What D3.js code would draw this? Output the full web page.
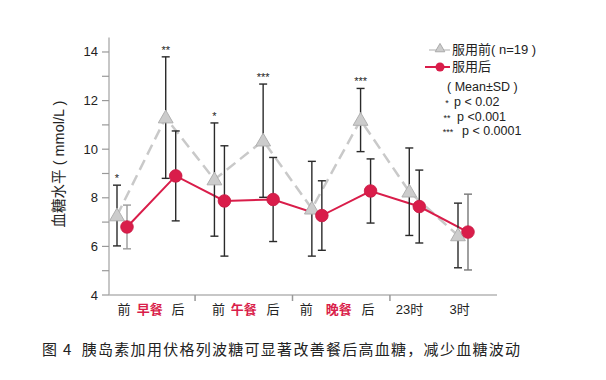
<!DOCTYPE html>
<html><head><meta charset="utf-8">
<script src="https://cdn.jsdelivr.net/npm/d3@7"></script>
<style>body{margin:0;background:#fff}svg{display:block}</style>
</head><body>
<svg id="c" width="606" height="380"></svg>
<script>
const timepoints = ["早餐前","早餐后","午餐前","午餐后","晚餐前","晚餐后","23时","3时"];
const beforeMean = [7.27, 11.3, 8.75, 10.35, 7.55, 11.2, 8.25, 6.45];
const beforeSD   = [1.25, 2.5, 2.33, 2.33, 1.95, 1.3, 1.8, 1.33];
const afterMean  = [6.8, 8.9, 7.87, 7.93, 7.27, 8.28, 7.64, 6.59];
const afterSD    = [0.9, 1.85, 2.27, 1.73, 1.43, 1.32, 1.5, 1.56];
const stars      = ["*", "**", "*", "***", "", "***", "", ""];
const yTicks = [4, 6, 8, 10, 12, 14];
const yMinor = [5, 7, 9, 11, 13];
const axisLabels = ["前","早餐","后","前","午餐","后","前","晚餐","后","23时","3时"];
const sigNotes = [["*","p < 0.02"],["**","p <0.001"],["***","p < 0.0001"]];

const svg = d3.select("#c");
const FONT = "'Liberation Sans', Arial, 'Noto Sans CJK SC', sans-serif";
const RED = "#d91d4a";
const y = d3.scaleLinear().domain([4, 14.6]).range([295, 37.4]);
const x = d3.scaleLinear().domain([0, 7]).range([122, 463]);
const axisGray = "#b5b5b5";

// y axis
svg.append("line").attr("x1",109).attr("x2",109).attr("y1",y(4)).attr("y2",y(14.6))
  .attr("stroke",axisGray).attr("stroke-width",1.5);
svg.selectAll(".yt").data(yTicks.concat(yMinor)).enter().append("line")
  .attr("x1",102).attr("x2",109).attr("y1",d=>y(d)).attr("y2",d=>y(d))
  .attr("stroke","#999").attr("stroke-width",1.2);
svg.selectAll(".yl").data(yTicks).enter().append("text")
  .attr("x",98).attr("y",d=>y(d)+4.5).attr("text-anchor","end")
  .attr("font-family",FONT).attr("font-size",13).attr("fill","#222").text(d=>d);

// x axis
svg.append("line").attr("x1",109).attr("x2",497).attr("y1",295).attr("y2",295)
  .attr("stroke",axisGray).attr("stroke-width",1.5);
[1.5, 3.5, 5.5].forEach(v=>{
  svg.append("line").attr("x1",x(v)).attr("x2",x(v)).attr("y1",295).attr("y2",301)
    .attr("stroke","#999").attr("stroke-width",1.5);
});
const labelPos = [0.04, 0.57, 1.15, 1.98, 2.5, 3.1, 3.78, 4.45, 5.05, 5.9, 6.93];
axisLabels.forEach((t,i)=>{
  const meal = t.indexOf("餐")>=0;
  svg.append("text").attr("x",x(labelPos[i])).attr("y",314).attr("text-anchor","middle")
    .attr("font-family",FONT).attr("font-size",13)
    .attr("font-weight",meal?"bold":"normal").attr("fill",meal?RED:"#222").text(t);
});

// y label
svg.append("text").attr("transform","translate(64,164) rotate(-90)").attr("text-anchor","middle")
  .attr("font-family",FONT).attr("font-size",14.5).attr("fill","#222").text("血糖水平 ( mmol/L )");

const tri = d3.symbol().type(d3.symbolTriangle).size(95);
const OFF = 5;

// before line (dashed gray)
const lineB = d3.line().x((d,i)=>x(i)-OFF).y(d=>y(d));
svg.append("path").datum(beforeMean).attr("d",lineB).attr("fill","none")
  .attr("stroke","#c9c9c9").attr("stroke-width",2.5).attr("stroke-dasharray","11,6");
// after line
const lineA = d3.line().x((d,i)=>x(i)+OFF).y(d=>y(d));
svg.append("path").datum(afterMean).attr("d",lineA).attr("fill","none")
  .attr("stroke",RED).attr("stroke-width",2);

function errBar(cx, m, s, col){
  const g = svg.append("g").attr("stroke",col).attr("stroke-width",1.4);
  g.append("line").attr("x1",cx).attr("x2",cx).attr("y1",y(m+s)).attr("y2",y(m-s));
  g.append("line").attr("x1",cx-4).attr("x2",cx+4).attr("y1",y(m+s)).attr("y2",y(m+s));
  g.append("line").attr("x1",cx-4).attr("x2",cx+4).attr("y1",y(m-s)).attr("y2",y(m-s));
}
beforeMean.forEach((m,i)=>errBar(x(i)-OFF, m, beforeSD[i], "#2a2a2a"));
afterMean.forEach((m,i)=>errBar(x(i)+OFF, m, afterSD[i], i===0?"#9a9a9a":(i===7?"#777":"#2a2a2a")));

// markers
svg.selectAll(".tri").data(beforeMean).enter().append("path")
  .attr("d",tri).attr("transform",(d,i)=>`translate(${x(i)-OFF},${y(d)+1})`)
  .attr("fill","#cccccc").attr("stroke","#b0b0b0").attr("stroke-width",1);
svg.selectAll(".dot").data(afterMean).enter().append("circle")
  .attr("cx",(d,i)=>x(i)+OFF).attr("cy",d=>y(d)).attr("r",6.3)
  .attr("fill",RED).attr("stroke","#c81a44").attr("stroke-width",0.8);

// stars
stars.forEach((s,i)=>{
  if(!s) return;
  svg.append("text").attr("x",x(i)-OFF).attr("y",y(beforeMean[i]+beforeSD[i])-3)
    .attr("text-anchor","middle").attr("font-family",FONT).attr("font-size",11)
    .attr("fill","#222").text(s);
});

// legend
svg.append("line").attr("x1",429).attr("x2",450).attr("y1",50).attr("y2",50)
  .attr("stroke","#c9c9c9").attr("stroke-width",1.5);
svg.append("path").attr("d",d3.symbol().type(d3.symbolTriangle).size(40))
  .attr("transform","translate(440,49)").attr("fill","#cccccc").attr("stroke","#aaa");
svg.append("text").attr("x",452).attr("y",54).attr("font-family",FONT).attr("font-size",13)
  .attr("fill","#222").text("服用前( n=19 )");
svg.append("line").attr("x1",425).attr("x2",450).attr("y1",67).attr("y2",67)
  .attr("stroke",RED).attr("stroke-width",2);
svg.append("circle").attr("cx",440).attr("cy",67).attr("r",4.5).attr("fill",RED);
svg.append("text").attr("x",452).attr("y",71).attr("font-family",FONT).attr("font-size",13)
  .attr("fill","#222").text("服用后");
svg.append("text").attr("x",447).attr("y",91).attr("font-family",FONT).attr("font-size",12.5)
  .attr("fill","#222").text("( Mean±SD )");
const starX = [447, 447, 448], pX = [454, 457, 462], rowY = [106, 121, 135];
sigNotes.forEach((n,i)=>{
  svg.append("text").attr("x",starX[i]).attr("y",rowY[i]).attr("text-anchor","middle")
    .attr("font-family",FONT).attr("font-size",9).attr("fill","#222").text(n[0]);
  svg.append("text").attr("x",pX[i]).attr("y",rowY[i]).attr("font-family",FONT)
    .attr("font-size",12.5).attr("fill","#222").text(n[1]);
});

// caption
svg.append("text").attr("x",42).attr("y",355).attr("font-family","'Noto Sans CJK SC', sans-serif")
  .attr("font-size",15).attr("fill","#222").style("white-space","pre")
  .attr("textLength",478).attr("lengthAdjust","spacing")
  .text("图 4  胰岛素加用伏格列波糖可显著改善餐后高血糖，减少血糖波动");
</script>
</body></html>
